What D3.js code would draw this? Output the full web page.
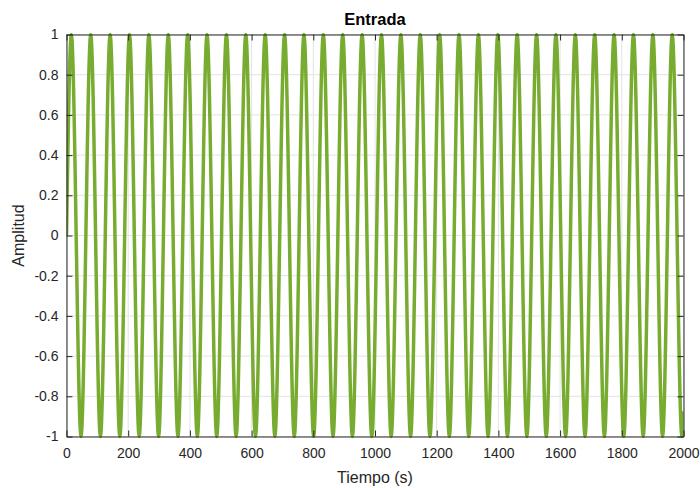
<!DOCTYPE html>
<html>
<head>
<meta charset="utf-8">
<script src="https://cdn.jsdelivr.net/npm/d3@7/dist/d3.min.js"></script>
<style>
  html, body { margin: 0; padding: 0; background: #fff; }
  svg text { font-family: "Liberation Sans", Arial, Helvetica, sans-serif; fill: #262626; }
</style>
</head>
<body>
<svg id="chart" width="700" height="488"></svg>
<script>
// Signal extrema (time in s): crests reach +1, troughs reach -1
const crestas = [15.7, 78.5, 141.4, 204.2, 267.0, 329.9, 392.7, 455.5, 518.4, 581.2,
  644.0, 706.9, 769.7, 832.5, 895.4, 958.2, 1021.0, 1083.8, 1146.7, 1209.5, 1272.3,
  1335.2, 1398.0, 1460.8, 1523.7, 1586.5, 1649.3, 1712.2, 1775.0, 1837.8, 1900.7, 1963.5];
const valles = [47.1, 110.0, 172.8, 235.6, 298.5, 361.3, 424.1, 487.0, 549.8, 612.6,
  675.4, 738.3, 801.1, 863.9, 926.8, 989.6, 1052.4, 1115.3, 1178.1, 1240.9, 1303.8,
  1366.6, 1429.4, 1492.3, 1555.1, 1617.9, 1680.8, 1743.6, 1806.4, 1869.3, 1932.1, 1994.9];
// Start and end samples of the record
const extremosTiempo = [0, 2000];
const extremosAmplitud = [0, -0.874];

const xTicks = [0, 200, 400, 600, 800, 1000, 1200, 1400, 1600, 1800, 2000];
const yTicks = [-1, -0.8, -0.6, -0.4, -0.2, 0, 0.2, 0.4, 0.6, 0.8, 1];

const titulo = "Entrada";
const etiquetaX = "Tiempo (s)";
const etiquetaY = "Amplitud";

// Assemble the sample table in time order
const puntos = [
  ...crestas.map(t => ({ t, a: 1 })),
  ...valles.map(t => ({ t, a: -1 })),
  ...extremosTiempo.map((t, i) => ({ t, a: extremosAmplitud[i] }))
].sort((p, q) => p.t - q.t);

const svg = d3.select("#chart");
const m = { left: 66.5, right: 683.5, top: 34.5, bottom: 436.5 };

const x = d3.scaleLinear().domain([0, 2000]).range([m.left, m.right]);
const y = d3.scaleLinear().domain([-1, 1]).range([m.bottom, m.top]);

const axisColor = "#262626";
const gridColor = "#e3e3e3";

// Grid
const grid = svg.append("g");
grid.selectAll("line.gx").data(xTicks).join("line")
  .attr("x1", d => x(d)).attr("x2", d => x(d))
  .attr("y1", m.top).attr("y2", m.bottom)
  .attr("stroke", gridColor).attr("stroke-width", 1);
grid.selectAll("line.gy").data(yTicks).join("line")
  .attr("y1", d => y(d)).attr("y2", d => y(d))
  .attr("x1", m.left).attr("x2", m.right)
  .attr("stroke", gridColor).attr("stroke-width", 1);

// Axes with inward ticks on all four sides
const tickLen = 6;
const axB = d3.axisBottom(x).tickValues(xTicks).tickSizeInner(-tickLen).tickSizeOuter(0).tickPadding(12).tickFormat(d => d);
const axT = d3.axisTop(x).tickValues(xTicks).tickSizeInner(-tickLen).tickSizeOuter(0).tickFormat("");
const axL = d3.axisLeft(y).tickValues(yTicks).tickSizeInner(-tickLen).tickSizeOuter(0).tickPadding(8).tickFormat(d => d);
const axR = d3.axisRight(y).tickValues(yTicks).tickSizeInner(-tickLen).tickSizeOuter(0).tickFormat("");

function style(g) {
  g.select(".domain").attr("stroke", axisColor).attr("stroke-width", 1);
  g.selectAll(".tick line").attr("stroke", axisColor).attr("stroke-width", 1);
  g.selectAll(".tick text").attr("font-size", 14).attr("fill", axisColor)
    .style("font-family", '"Liberation Sans", Arial, sans-serif');
}

// Signal
const linea = d3.line().x(d => x(d.t)).y(d => y(d.a)).curve(d3.curveMonotoneX);
svg.append("defs").append("clipPath").attr("id", "clip")
  .append("rect").attr("x", m.left).attr("y", m.top - 2)
  .attr("width", m.right - m.left).attr("height", m.bottom - m.top + 4);
svg.append("path")
  .datum(puntos)
  .attr("d", linea)
  .attr("fill", "none")
  .attr("stroke", "#77AC30")
  .attr("stroke-width", 3.5)
  .attr("stroke-linejoin", "round")
  .attr("clip-path", "url(#clip)");

svg.append("g").attr("transform", `translate(0,${m.bottom})`).call(axB).call(style);
svg.append("g").attr("transform", `translate(0,${m.top})`).call(axT).call(style);
svg.append("g").attr("transform", `translate(${m.left},0)`).call(axL).call(style);
svg.append("g").attr("transform", `translate(${m.right},0)`).call(axR).call(style);

// Labels
svg.append("text")
  .attr("x", (m.left + m.right) / 2).attr("y", 25)
  .attr("text-anchor", "middle").attr("font-size", 16.5).attr("font-weight", "bold")
  .style("fill", "#000")
  .text(titulo);
svg.append("text")
  .attr("x", (m.left + m.right) / 2).attr("y", 483)
  .attr("text-anchor", "middle").attr("font-size", 16)
  .text(etiquetaX);
svg.append("text")
  .attr("transform", `translate(24,${(m.top + m.bottom) / 2}) rotate(-90)`)
  .attr("text-anchor", "middle").attr("font-size", 16)
  .text(etiquetaY);
</script>
</body>
</html>
